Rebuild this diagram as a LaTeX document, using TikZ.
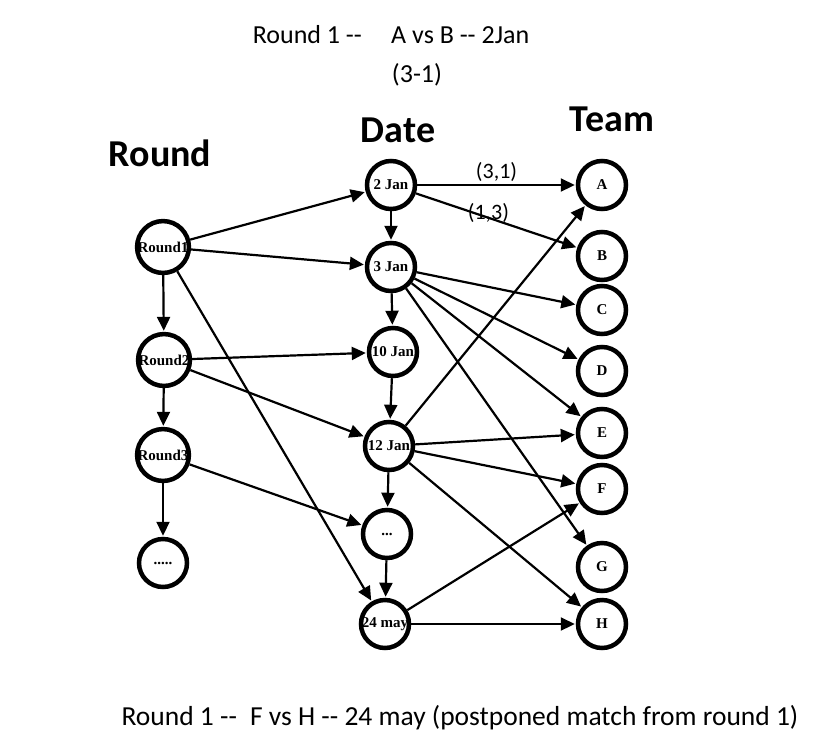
\documentclass[tikz,border=0pt]{standalone}
\usepackage{fontspec}
\setmainfont{Carlito}
\newfontfamily\nodefont{Liberation Serif}
\usetikzlibrary{arrows.meta}
\begin{document}
\begin{tikzpicture}[x=1pt,y=-1pt,
  vtx/.style={circle,draw,line width=4.5pt,minimum size=48pt,inner sep=0pt,font=\nodefont\bfseries\fontsize{15}{17}\selectfont},
  edge/.style={line width=2.2pt,-{Triangle[length=14pt,width=13pt]},shorten >=1pt},
  head/.style={font=\bfseries\fontsize{38}{44}\selectfont},
  note/.style={font=\fontsize{26}{30}\selectfont},
  elab/.style={font=\fontsize{22}{26}\selectfont}]
\useasboundingbox (0,0) rectangle (827,753);
% titles
\node[note] (t1) at (391,35) {Round 1 -{}-\hspace{0.9em} A vs B -{}- 2Jan};
\node[note] (t2) at (417,75) {(3-1)};
\node[note,font=\fontsize{27.5}{32}\selectfont] (t3) at (460,718) {Round 1 -{}-\hspace{0.25em} F vs H -{}- 24 may (postponed match from round 1)};
\node[head] (hr) at (160,153) {Round};
\node[head] (hd) at (398,130) {Date};
\node[head] (ht) at (612,119) {Team};
% rounds
\node[vtx] (r1) at (163,247) {Round1};
\node[vtx] (r2) at (164,360) {Round2};
\node[vtx] (r3) at (163,455) {Round3};
\node[vtx] (r4) at (163,563) {.....};
% dates
\node[vtx] (d1) at (391,185) {2 Jan};
\node[vtx] (d2) at (391,267) {3 Jan};
\node[vtx] (d3) at (393,352) {10 Jan};
\node[vtx] (d4) at (389,446) {12 Jan};
\node[vtx] (d5) at (387,534) {...};
\node[vtx] (d6) at (385,624) {24 may};
% teams
\node[vtx] (A) at (602,185) {A};
\node[vtx] (B) at (602,256) {B};
\node[vtx] (C) at (602,310) {C};
\node[vtx] (D) at (602,371) {D};
\node[vtx] (E) at (602,433) {E};
\node[vtx] (F) at (602,489) {F};
\node[vtx] (G) at (602,567) {G};
\node[vtx] (H) at (602,624) {H};
% round edges
\draw[edge] (r1) -- (d1);
\draw[edge] (r1) -- (d2);
\draw[edge] (r1) -- (r2);
\draw[edge] (r1) -- (d6);
\draw[edge] (r2) -- (d3);
\draw[edge] (r2) -- (d4);
\draw[edge] (r2) -- (r3);
\draw[edge] (r3) -- (d5);
\draw[edge] (r3) -- (r4);
% date chain
\draw[edge] (d1) -- (d2);
\draw[edge] (d2) -- (d3);
\draw[edge] (d3) -- (d4);
\draw[edge] (d4) -- (d5);
\draw[edge] (d5) -- (d6);
% date to team
\draw[edge] (d1) -- node[elab,above=-1pt] {(3,1)} (A);
\draw[edge] (d1) -- node[elab,pos=0.45,yshift=5pt] {(1,3)} (B);
\draw[edge] (d2) -- (C);
\draw[edge] (d2) -- (D);
\draw[edge] (d2) -- (E);
\draw[edge] (d2) -- (G);
\draw[edge] (d4) -- (A);
\draw[edge] (d4) -- (E);
\draw[edge] (d4) -- (F);
\draw[edge] (d4) -- (H);
\draw[edge] (d6) -- (F);
\draw[edge] (d6) -- (H);
\end{tikzpicture}
\end{document}
